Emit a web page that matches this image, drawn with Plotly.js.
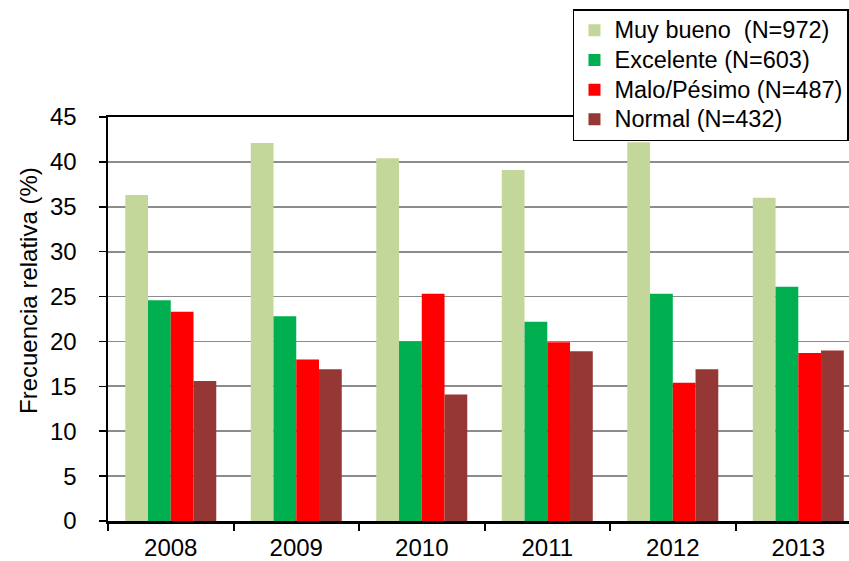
<!DOCTYPE html>
<html>
<head>
<meta charset="utf-8">
<script src="https://cdn.plot.ly/plotly-3.0.1.min.js"></script>
<style>html,body{margin:0;padding:0;background:#fff;}#chart{width:849px;height:561px;}</style>
</head>
<body>
<div id="chart"></div>
<script>
const years = ["2008", "2009", "2010", "2011", "2012", "2013"];
const seriesNames = ["Muy bueno\u00a0 (N=972)", "Excelente (N=603)", "Malo/Pésimo (N=487)", "Normal (N=432)"];
const muyBueno = [36.3, 42.1, 40.4, 39.1, 42.2, 36.0];
const excelente = [24.6, 22.8, 20.0, 22.2, 25.3, 26.1];
const maloPesimo = [23.3, 18.0, 25.3, 19.9, 15.4, 18.7];
const normal = [15.6, 16.9, 14.1, 18.9, 16.9, 19.0];
const yTicks = [0, 5, 10, 15, 20, 25, 30, 35, 40, 45];
const yTitle = "Frecuencia relativa (%)";

const colors = ["#C4D79B", "#00B050", "#FF0000", "#953735"];
const values = [muyBueno, excelente, maloPesimo, normal];

const traces = values.map((v, i) => ({
  type: "bar",
  name: '<span style="font-size:23.5px">' + seriesNames[i] + '</span>',
  x: years,
  y: v,
  marker: {color: colors[i], line: {width: 0}},
  hoverinfo: "skip"
}));

const font = "Liberation Sans, Arial, sans-serif";
const layout = {
  width: 849, height: 561,
  margin: {l: 108, r: 0, t: 117, b: 40, pad: 0},
  paper_bgcolor: "#fff", plot_bgcolor: "#fff",
  font: {family: font, size: 24, color: "#000"},
  barmode: "group",
  bargap: 0.275,
  bargroupgap: 0,
  showlegend: true,
  legend: {
    x: 0.6275, xanchor: "left", y: (521 - 9) / 404, yanchor: "top",
    bgcolor: "#fff", bordercolor: "#000", borderwidth: 1.5,
    font: {family: font, size: 20.5, color: "#000"},
    tracegroupgap: 0
  },
  xaxis: {
    type: "category",
    range: [-0.5, 5.404],
    showline: true, linecolor: "#000", linewidth: 2.5, mirror: true,
    ticks: "outside", tickson: "boundaries", ticklen: 7, tickwidth: 2, tickcolor: "#000",
    showgrid: false,
    tickfont: {family: font, size: 24, color: "#000"},
    ticklabelstandoff: 4,
    fixedrange: true
  },
  yaxis: {
    range: [0, 45],
    tickvals: yTicks,
    showline: true, linecolor: "#000", linewidth: 2.5,
    ticks: "outside", ticklen: 7, tickwidth: 1.5, tickcolor: "#000",
    showgrid: true, gridcolor: "#8c8c8c", gridwidth: 1.8,
    zeroline: false,
    tickfont: {family: font, size: 24, color: "#000"},
    ticklabelstandoff: 17,
    fixedrange: true
  },
  annotations: [{
    text: yTitle, textangle: -90,
    xref: "paper", yref: "paper",
    x: (28 - 108) / 741, y: (521 - 291) / 404,
    xanchor: "center", yanchor: "middle",
    showarrow: false,
    font: {family: font, size: 24, color: "#000"}
  }]
};

Plotly.newPlot("chart", traces, layout, {displayModeBar: false, staticPlot: true});
</script>
</body>
</html>
